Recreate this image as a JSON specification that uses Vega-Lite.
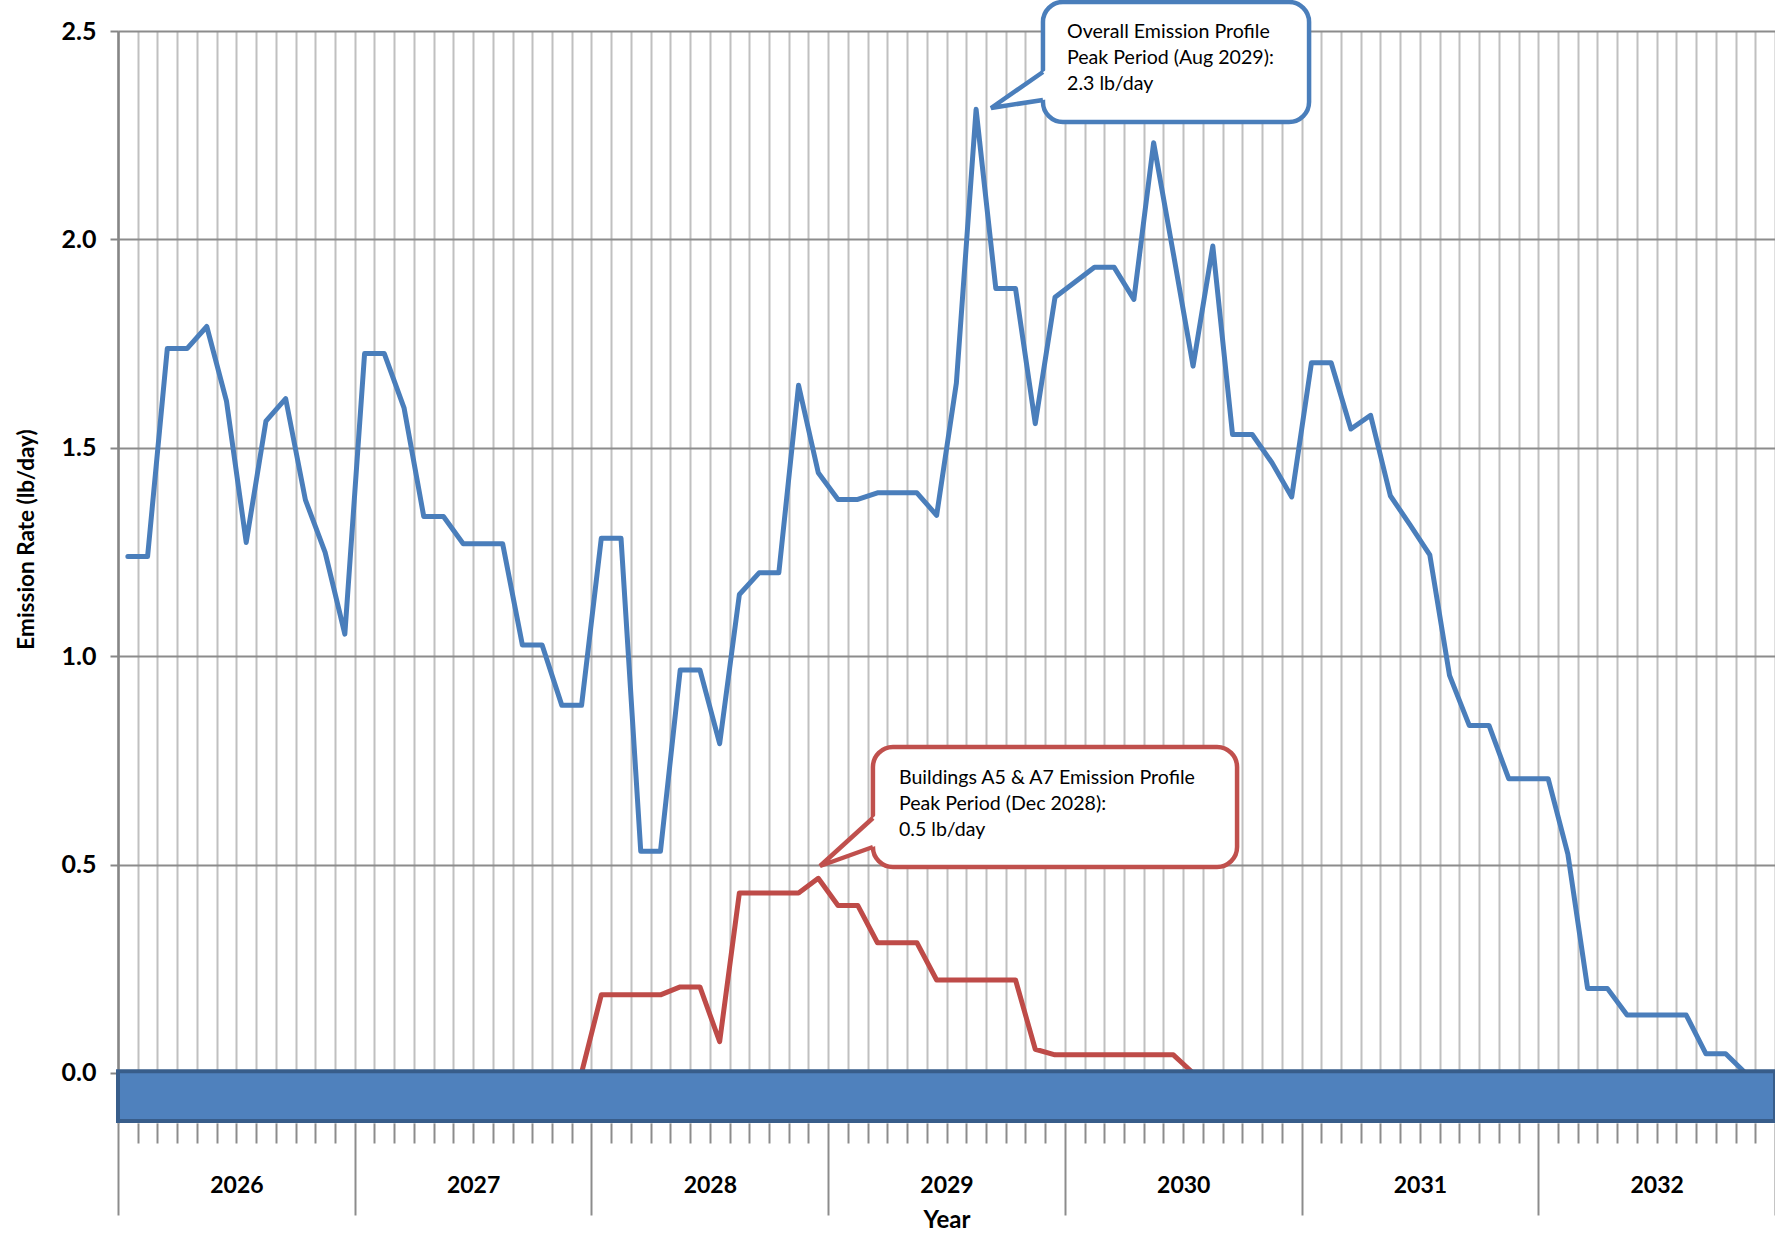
{
  "$schema": "https://vega.github.io/schema/vega-lite/v6.json",
  "width": 1657,
  "height": 1092,
  "autosize": {"type": "none"},
  "padding": {"left": 118, "top": 31, "right": 0, "bottom": 110},
  "background": "white",
  "config": {"view": {"stroke": null}, "font": "Lato"},
  "datasets": {
    "series": [
      {"idx":0,"v":1.239,"s":"Overall"},{"idx":1,"v":1.239,"s":"Overall"},{"idx":2,"v":1.738,"s":"Overall"},{"idx":3,"v":1.738,"s":"Overall"},{"idx":4,"v":1.791,"s":"Overall"},{"idx":5,"v":1.612,"s":"Overall"},{"idx":6,"v":1.273,"s":"Overall"},{"idx":7,"v":1.564,"s":"Overall"},{"idx":8,"v":1.618,"s":"Overall"},{"idx":9,"v":1.375,"s":"Overall"},{"idx":10,"v":1.249,"s":"Overall"},{"idx":11,"v":1.053,"s":"Overall"},
      {"idx":12,"v":1.726,"s":"Overall"},{"idx":13,"v":1.726,"s":"Overall"},{"idx":14,"v":1.596,"s":"Overall"},{"idx":15,"v":1.335,"s":"Overall"},{"idx":16,"v":1.335,"s":"Overall"},{"idx":17,"v":1.27,"s":"Overall"},{"idx":18,"v":1.27,"s":"Overall"},{"idx":19,"v":1.27,"s":"Overall"},{"idx":20,"v":1.027,"s":"Overall"},{"idx":21,"v":1.027,"s":"Overall"},{"idx":22,"v":0.882,"s":"Overall"},{"idx":23,"v":0.882,"s":"Overall"},
      {"idx":24,"v":1.283,"s":"Overall"},{"idx":25,"v":1.283,"s":"Overall"},{"idx":26,"v":0.532,"s":"Overall"},{"idx":27,"v":0.532,"s":"Overall"},{"idx":28,"v":0.967,"s":"Overall"},{"idx":29,"v":0.967,"s":"Overall"},{"idx":30,"v":0.79,"s":"Overall"},{"idx":31,"v":1.148,"s":"Overall"},{"idx":32,"v":1.2,"s":"Overall"},{"idx":33,"v":1.2,"s":"Overall"},{"idx":34,"v":1.65,"s":"Overall"},{"idx":35,"v":1.44,"s":"Overall"},
      {"idx":36,"v":1.376,"s":"Overall"},{"idx":37,"v":1.376,"s":"Overall"},{"idx":38,"v":1.392,"s":"Overall"},{"idx":39,"v":1.392,"s":"Overall"},{"idx":40,"v":1.392,"s":"Overall"},{"idx":41,"v":1.338,"s":"Overall"},{"idx":42,"v":1.655,"s":"Overall"},{"idx":43,"v":2.312,"s":"Overall"},{"idx":44,"v":1.882,"s":"Overall"},{"idx":45,"v":1.882,"s":"Overall"},{"idx":46,"v":1.558,"s":"Overall"},{"idx":47,"v":1.861,"s":"Overall"},
      {"idx":48,"v":1.897,"s":"Overall"},{"idx":49,"v":1.933,"s":"Overall"},{"idx":50,"v":1.933,"s":"Overall"},{"idx":51,"v":1.856,"s":"Overall"},{"idx":52,"v":2.232,"s":"Overall"},{"idx":53,"v":1.966,"s":"Overall"},{"idx":54,"v":1.696,"s":"Overall"},{"idx":55,"v":1.984,"s":"Overall"},{"idx":56,"v":1.532,"s":"Overall"},{"idx":57,"v":1.532,"s":"Overall"},{"idx":58,"v":1.464,"s":"Overall"},{"idx":59,"v":1.382,"s":"Overall"},
      {"idx":60,"v":1.704,"s":"Overall"},{"idx":61,"v":1.704,"s":"Overall"},{"idx":62,"v":1.545,"s":"Overall"},{"idx":63,"v":1.578,"s":"Overall"},{"idx":64,"v":1.385,"s":"Overall"},{"idx":65,"v":1.315,"s":"Overall"},{"idx":66,"v":1.243,"s":"Overall"},{"idx":67,"v":0.954,"s":"Overall"},{"idx":68,"v":0.834,"s":"Overall"},{"idx":69,"v":0.834,"s":"Overall"},{"idx":70,"v":0.706,"s":"Overall"},{"idx":71,"v":0.706,"s":"Overall"},
      {"idx":72,"v":0.706,"s":"Overall"},{"idx":73,"v":0.525,"s":"Overall"},{"idx":74,"v":0.203,"s":"Overall"},{"idx":75,"v":0.203,"s":"Overall"},{"idx":76,"v":0.139,"s":"Overall"},{"idx":77,"v":0.139,"s":"Overall"},{"idx":78,"v":0.139,"s":"Overall"},{"idx":79,"v":0.139,"s":"Overall"},{"idx":80,"v":0.046,"s":"Overall"},{"idx":81,"v":0.046,"s":"Overall"},{"idx":82,"v":0,"s":"Overall"},{"idx":83,"v":0,"s":"Overall"},
      {"idx":23,"v":0,"s":"Buildings"},{"idx":24,"v":0.1875,"s":"Buildings"},{"idx":25,"v":0.1875,"s":"Buildings"},{"idx":26,"v":0.1875,"s":"Buildings"},{"idx":27,"v":0.1875,"s":"Buildings"},{"idx":28,"v":0.2065,"s":"Buildings"},{"idx":29,"v":0.2065,"s":"Buildings"},{"idx":30,"v":0.075,"s":"Buildings"},{"idx":31,"v":0.432,"s":"Buildings"},{"idx":32,"v":0.432,"s":"Buildings"},{"idx":33,"v":0.432,"s":"Buildings"},{"idx":34,"v":0.432,"s":"Buildings"},{"idx":35,"v":0.467,"s":"Buildings"},
      {"idx":36,"v":0.402,"s":"Buildings"},{"idx":37,"v":0.402,"s":"Buildings"},{"idx":38,"v":0.3125,"s":"Buildings"},{"idx":39,"v":0.3125,"s":"Buildings"},{"idx":40,"v":0.3125,"s":"Buildings"},{"idx":41,"v":0.223,"s":"Buildings"},{"idx":42,"v":0.223,"s":"Buildings"},{"idx":43,"v":0.223,"s":"Buildings"},{"idx":44,"v":0.223,"s":"Buildings"},{"idx":45,"v":0.223,"s":"Buildings"},{"idx":46,"v":0.057,"s":"Buildings"},{"idx":47,"v":0.0435,"s":"Buildings"},
      {"idx":48,"v":0.0435,"s":"Buildings"},{"idx":49,"v":0.0435,"s":"Buildings"},{"idx":50,"v":0.0435,"s":"Buildings"},{"idx":51,"v":0.0435,"s":"Buildings"},{"idx":52,"v":0.0435,"s":"Buildings"},{"idx":53,"v":0.0435,"s":"Buildings"},{"idx":54,"v":0,"s":"Buildings"}
    ],
    "axisbar": [{"idx": -0.5, "idx2": 83.5, "v": 0.004, "v2": -0.115}],
    "boxes": [
      {"idx": 46.39, "idx2": 59.88, "v": 2.5696, "v2": 2.2817, "s": "Overall"},
      {"idx": 37.77, "idx2": 56.23, "v": 0.7821, "v2": 0.4942, "s": "Buildings"}
    ],
    "pointerfill": [
      {"idx": 43.76, "v": 2.3153, "v2": 2.3153, "s": "Overall"},
      {"idx": 46.69, "v": 2.3367, "v2": 2.4114, "s": "Overall"},
      {"idx": 35.09, "v": 0.4966, "v2": 0.4966, "s": "Buildings"},
      {"idx": 38.07, "v": 0.5473, "v2": 0.6247, "s": "Buildings"}
    ],
    "pointerline": [
      {"idx": 46.39, "v": 2.4016, "k": 0, "s": "Overall"},
      {"idx": 43.76, "v": 2.3153, "k": 1, "s": "Overall"},
      {"idx": 46.39, "v": 2.3345, "k": 2, "s": "Overall"},
      {"idx": 37.77, "v": 0.6118, "k": 0, "s": "Buildings"},
      {"idx": 35.09, "v": 0.4966, "k": 1, "s": "Buildings"},
      {"idx": 37.77, "v": 0.5422, "k": 2, "s": "Buildings"}
    ],
    "notes": [
      {"idx": 47.61, "v": 2.4967, "s": "Overall", "lines": ["Overall Emission Profile", "Peak Period (Aug 2029):", "2.3 lb/day"]},
      {"idx": 39.09, "v": 0.7071, "s": "Buildings", "lines": ["Buildings A5 & A7 Emission Profile", "Peak Period (Dec 2028):", "0.5 lb/day"]}
    ]
  },
  "encoding": {
    "x": {
      "field": "idx", "type": "quantitative",
      "scale": {"domain": [-0.5, 83.5], "nice": false, "zero": false},
      "axis": {
        "values": [-0.5,0.5,1.5,2.5,3.5,4.5,5.5,6.5,7.5,8.5,9.5,10.5,11.5,12.5,13.5,14.5,15.5,16.5,17.5,18.5,19.5,20.5,21.5,22.5,23.5,24.5,25.5,26.5,27.5,28.5,29.5,30.5,31.5,32.5,33.5,34.5,35.5,36.5,37.5,38.5,39.5,40.5,41.5,42.5,43.5,44.5,45.5,46.5,47.5,48.5,49.5,50.5,51.5,52.5,53.5,54.5,55.5,56.5,57.5,58.5,59.5,60.5,61.5,62.5,63.5,64.5,65.5,66.5,67.5,68.5,69.5,70.5,71.5,72.5,73.5,74.5,75.5,76.5,77.5,78.5,79.5,80.5,81.5,82.5,83.5],
        "grid": true, "gridColor": "#c0c0c0", "gridWidth": 2,
        "domain": false,
        "ticks": true, "tickColor": "#8c8c8c", "tickWidth": 2,
        "tickSize": {"condition": {"test": "(datum.value + 0.5) % 12 === 0", "value": 92}, "value": 20},
        "labelExpr": "(datum.value + 0.5) % 12 === 0 && datum.value < 80 ? '' + (2026 + (datum.value + 0.5) / 12) : ''",
        "labelOffset": 118.4, "labelPadding": -30, "labelBaseline": "middle", "labelAlign": "center",
        "labelFlush": false, "labelOverlap": false, "labelBound": false,
        "labelFont": "Lato", "labelFontSize": 23, "labelFontWeight": "bold", "labelColor": "#000000",
        "title": "Year", "titleFont": "Lato", "titleFontSize": 24, "titleFontWeight": "bold", "titleColor": "#000000",
        "titleX": 828.5, "titleY": 97, "titleBaseline": "middle", "titleAlign": "center"
      }
    },
    "y": {
      "field": "v", "type": "quantitative",
      "scale": {"domain": [-0.12, 2.5], "nice": false, "zero": false},
      "axis": {
        "values": [0, 0.5, 1, 1.5, 2, 2.5], "format": ".1f",
        "grid": true, "gridColor": "#8c8c8c", "gridWidth": 2,
        "domain": true, "domainColor": "#868686", "domainWidth": 2.5,
        "ticks": true, "tickColor": "#868686", "tickSize": 8, "tickWidth": 2,
        "labelFont": "Lato", "labelFontSize": 25, "labelFontWeight": "bold", "labelColor": "#000000", "labelPadding": 14,
        "title": "Emission Rate (lb/day)", "titleFont": "Lato", "titleFontSize": 22.5, "titleFontWeight": "bold", "titleColor": "#000000",
        "titleX": -92, "titleY": 508, "titleAngle": 270, "titleBaseline": "middle", "titleAlign": "center"
      }
    }
  },
  "layer": [
    {
      "data": {"name": "series"},
      "mark": {"type": "line", "strokeWidth": 5, "strokeJoin": "round", "strokeCap": "round"},
      "encoding": {
        "color": {"field": "s", "type": "nominal", "scale": {"domain": ["Overall", "Buildings"], "range": ["#4a7ebb", "#be4b48"]}, "legend": null}
      }
    },
    {
      "data": {"name": "axisbar"},
      "mark": {"type": "rect", "fill": "#4f81bd", "stroke": "#385d8a", "strokeWidth": 4},
      "encoding": {
        "x2": {"field": "idx2"},
        "y2": {"field": "v2"}
      }
    },
    {
      "data": {"name": "boxes"},
      "mark": {"type": "rect", "fill": "white", "strokeWidth": 4.5, "cornerRadius": 20},
      "encoding": {
        "x2": {"field": "idx2"},
        "y2": {"field": "v2"},
        "stroke": {"field": "s", "type": "nominal", "scale": {"domain": ["Overall", "Buildings"], "range": ["#4a7ebb", "#c0504d"]}, "legend": null}
      }
    },
    {
      "data": {"name": "pointerfill"},
      "mark": {"type": "area", "color": "white", "opacity": 1},
      "encoding": {
        "y2": {"field": "v2"},
        "detail": {"field": "s", "type": "nominal"}
      }
    },
    {
      "data": {"name": "pointerline"},
      "mark": {"type": "line", "strokeWidth": 4.5, "strokeJoin": "miter"},
      "encoding": {
        "stroke": {"field": "s", "type": "nominal", "scale": {"domain": ["Overall", "Buildings"], "range": ["#4a7ebb", "#c0504d"]}, "legend": null},
        "order": {"field": "k", "type": "quantitative"}
      }
    },
    {
      "data": {"name": "notes"},
      "mark": {"type": "text", "align": "left", "baseline": "middle", "font": "Lato", "fontSize": 19.6, "lineHeight": 25.7, "color": "#000000"},
      "encoding": {
        "text": {"field": "lines"}
      }
    }
  ]
}
